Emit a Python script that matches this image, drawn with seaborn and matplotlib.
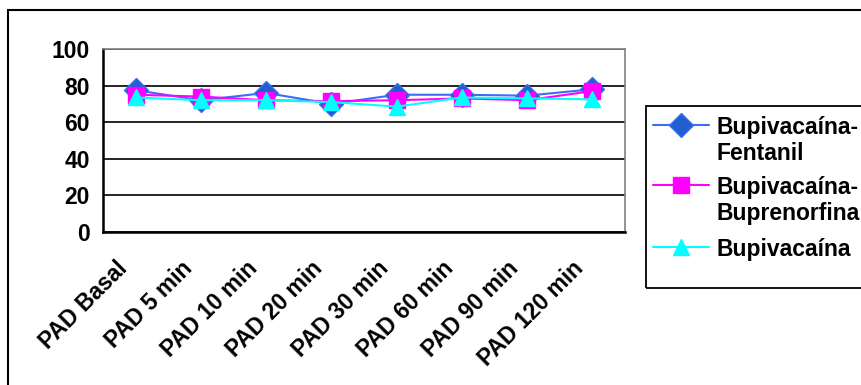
import matplotlib
matplotlib.use("Agg")
import matplotlib.pyplot as plt
import matplotlib.transforms as mtransforms
import seaborn as sns
import pandas as pd
from matplotlib.patches import Rectangle
from matplotlib.lines import Line2D

categories = ["PAD Basal", "PAD 5 min", "PAD 10 min", "PAD 20 min",
              "PAD 30 min", "PAD 60 min", "PAD 90 min", "PAD 120 min"]
bup_fent = [77.5, 72, 76, 70, 75, 75, 74.5, 78]
bup_bupre = [75, 74, 72, 71.5, 72, 73, 72, 77]
bup = [73.5, 72, 72, 71, 68.5, 73.5, 73, 72.5]
series_names = ["Bupivacaína-\nFentanil", "Bupivacaína-\nBuprenorfina", "Bupivacaína"]
yticks = [0, 20, 40, 60, 80, 100]

sns.set_theme(style="white")
plt.rcParams['font.family'] = ['Liberation Sans', 'DejaVu Sans']
plt.rcParams['font.weight'] = 'bold'
plt.rcParams['text.color'] = 'black'
FS = 16.5

df = pd.DataFrame({
    "cat": categories * 3,
    "x": list(range(len(categories))) * 3,
    "val": bup_fent + bup_bupre + bup,
    "serie": [series_names[0]] * 8 + [series_names[1]] * 8 + [series_names[2]] * 8,
})

fig = plt.figure(figsize=(8.62, 3.85), dpi=100)
W, H = 862, 385
ax = fig.add_axes([103 / W, 1 - 232 / H, (625 - 103) / W, (232 - 49) / H])

styles = {
    series_names[0]: dict(color="#3A6EF5", marker="D", ms=12, mfc="#1F5FCF", mec="#3A70F0", zorder=3),
    series_names[1]: dict(color="#FF00FF", marker="s", ms=11.5, mfc="#FF00FF", mec="#FF00FF", zorder=4),
    series_names[2]: dict(color="#00FFFF", marker="^", ms=11, mfc="#00FFFF", mec="#00FFFF", zorder=5),
}
for name in series_names:
    sub = df[df["serie"] == name]
    st = styles[name]
    sns.lineplot(data=sub, x="x", y="val", ax=ax, color=st["color"], lw=1.5,
                 marker=st["marker"], markersize=st["ms"], markerfacecolor=st["mfc"],
                 markeredgecolor=st["mec"], markeredgewidth=1,
                 zorder=st["zorder"], legend=False)

ax.set_xlim(-0.5, len(categories) - 0.5)
ax.set_ylim(0, 100)
ax.set_yticks(yticks)
ax.set_yticklabels([str(v) for v in yticks], fontsize=FS, fontweight="bold", color="black")
ax.set_xticks([i - 0.5 for i in range(len(categories) + 1)])
ax.set_xticklabels([])

# category labels, rotated 45 degrees, anchored below each category centre
shift = mtransforms.ScaledTranslation(-12 / 100, -33 / 100, fig.dpi_scale_trans)
lbl_trans = ax.get_xaxis_transform() + shift
for i, cat in enumerate(categories):
    ax.text(i, 0, cat, transform=lbl_trans, rotation=45, ha="right", va="center",
            rotation_mode="anchor", fontsize=FS, fontweight="bold", color="black",
            clip_on=False)

ax.tick_params(axis="x", which="major", length=4.5, width=1.5, color="black", direction="out")
ax.tick_params(axis="y", length=4.5, width=1.5, color="black", direction="out", pad=5)
ax.set_xlabel("")
ax.set_ylabel("")
ax.grid(axis="y", color="black", lw=1.2)
ax.set_axisbelow(True)
for s in ["top", "right"]:
    ax.spines[s].set_color("#808080")
    ax.spines[s].set_linewidth(1.2)
for s in ["left", "bottom"]:
    ax.spines[s].set_color("black")
    ax.spines[s].set_linewidth(1.8)

# legend (Excel-style, drawn in figure pixel coordinates)
def fx(px):
    return px / W

def fy(py):
    return 1 - py / H

fig.add_artist(Rectangle((fx(646), fy(288)), 1.0, (288 - 106) / H, transform=fig.transFigure,
                         fill=False, edgecolor="black", lw=1.3, zorder=1))
legend_rows = [125, 185, 247]
line_pitch = 26
for name, yrow in zip(series_names, legend_rows):
    st = styles[name]
    fig.add_artist(Line2D([fx(653), fx(709)], [fy(yrow), fy(yrow)], transform=fig.transFigure,
                          color=st["color"], lw=1.5, zorder=2))
    fig.add_artist(Line2D([fx(681)], [fy(yrow)], transform=fig.transFigure, ls="none",
                          marker=st["marker"], markersize=st["ms"], markerfacecolor=st["mfc"],
                          markeredgecolor=st["mec"], markeredgewidth=1, zorder=3))
    for k, part in enumerate(name.split("\n")):
        fig.text(fx(716), fy(yrow + k * line_pitch), part, ha="left", va="center_baseline",
                 fontsize=FS, fontweight="bold", color="black")

fig.add_artist(Rectangle((8 / W, -0.1), 1.2, (1 - 10 / H) + 0.1, transform=fig.transFigure,
                         fill=False, edgecolor="black", lw=1.5, zorder=0))

fig.savefig("out.png", dpi=100)
